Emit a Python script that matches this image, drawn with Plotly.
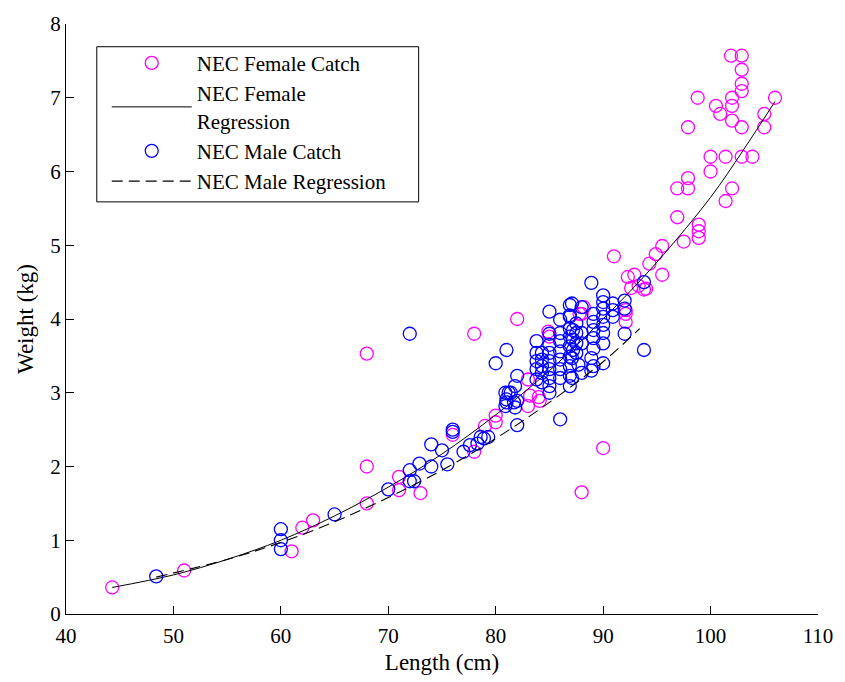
import plotly.graph_objects as go

# ---- data ----
female_len = [44.3, 51, 61, 62, 63, 68, 68, 68, 71, 71, 73, 76, 78, 78, 79, 80, 80,
              82, 83, 83, 84, 84.1, 83.2, 85, 84.9, 88, 90, 88, 87.8, 88.2, 92.1, 92.1, 92.1, 91,
              92.3, 92.9, 92.6, 93.8, 93.3, 94.0, 94.3, 94.9, 95.5, 95.5, 96.9, 97.5,
              98.9, 98.9, 98.9, 96.9, 97.9, 97.9, 100, 101.4, 102, 100, 101.4,
              102.9, 103.9, 97.9, 98.8, 100.5, 100.9, 102, 102, 102, 102.9,
              102.9, 102.9, 101.9, 102.9, 102.9, 105, 105, 106]
female_wt = [0.36, 0.59, 0.85, 1.17, 1.27, 1.5, 2.0, 3.53, 1.86, 1.68, 1.64, 2.43, 2.2, 3.8, 2.55, 2.6, 2.69,
             4.0, 2.82, 3.18, 2.94, 2.89, 2.96, 3.76, 3.83, 1.65, 2.25, 4.07, 4.07, 4.16, 4.07, 3.96, 4.12, 4.85,
             4.57, 4.6, 4.42, 4.4, 4.45, 4.41, 4.75, 4.88, 4.99, 4.6, 5.38, 5.05,
             5.28, 5.19, 5.1, 5.77, 5.77, 5.91, 6.0, 5.6, 5.77, 6.2, 6.2,
             6.2, 6.2, 6.6, 7.0, 6.89, 6.78, 6.69, 6.89, 7.0, 7.09,
             7.19, 7.38, 7.57, 7.57, 6.6, 6.6, 6.78, 7.0]

male_len = [48.4, 60, 60, 60, 65, 70, 72, 72, 72.4, 72.9, 74, 74, 75, 75.5, 76, 76,
            77, 77.6, 78.3, 78.6, 78.9, 79.3, 72, 80, 81, 80.9, 81.4, 81, 81.7, 82,
            82, 81.8, 81, 82, 80.9, 81.8, 81.2,
            83.8, 83.8, 83.8, 83.8, 83.8,
            84.3, 84.3, 84.3, 84.3, 84.3,
            85, 85, 85, 85, 85, 85, 85, 85, 85,
            86, 86, 86, 86, 86, 86, 86, 86,
            86.9, 86.9, 86.9, 86.9, 86.9, 86.9, 86.9, 86.9, 86.9, 86.9,
            87.5, 87.5, 87.5, 87.5,
            87.1, 87.1, 87.1, 87.2, 87.2, 87.2,
            88, 88, 88, 88, 87.7,
            88.9, 88.9, 88.9,
            89.1, 89.1, 89.1, 89.1, 89.1, 89.1,
            90, 90, 90, 90, 90, 90, 90, 90,
            90.9, 90.9, 90.9,
            92, 92, 92,
            93.8, 93.8]
male_wt = [0.51, 1.15, 1.0, 0.88, 1.35, 1.69, 1.95, 1.8, 1.8, 2.04, 2.0, 2.3, 2.22, 2.03, 2.5, 2.47,
           2.2, 2.29, 2.31, 2.4, 2.38, 2.4, 3.8, 3.4, 3.58, 3.0, 3.0, 2.87, 2.87, 2.56,
           3.23, 3.09, 2.91, 2.89, 2.82, 2.8, 3.0,
           3.7, 3.54, 3.43, 3.32, 3.18,
           3.54, 3.45, 3.36, 3.27, 3.14,
           4.1, 3.8, 3.65, 3.54, 3.43, 3.32, 3.2, 3.09, 3.0,
           3.99, 3.81, 3.7, 3.56, 3.45, 3.32, 3.2, 2.64,
           4.19, 4.05, 4.03, 3.87, 3.76, 3.63, 3.49, 3.36, 3.23, 3.09,
           3.94, 3.81, 3.67, 3.54,
           4.21, 3.47, 3.2, 3.85, 3.72, 3.58,
           4.16, 3.81, 3.67, 3.27, 3.38,
           4.49, 3.47, 3.3,
           4.07, 3.96, 3.85, 3.74, 3.6, 3.36,
           4.32, 4.23, 4.14, 4.03, 3.92, 3.81, 3.67, 3.4,
           4.21, 4.12, 4.03,
           4.25, 4.14, 3.8,
           4.5, 3.58]

female_reg_len = [44.3, 50, 55, 60, 65, 70, 75, 80, 85, 90, 95, 100, 103, 106]
female_reg_wt = [0.36, 0.53, 0.74, 1.0, 1.33, 1.72, 2.17, 2.70, 3.30, 4.0, 4.77, 5.65, 6.28, 6.95]

male_reg_len = [48.4, 55, 60, 65, 70, 75, 80, 85, 90, 93.4]
male_reg_wt = [0.50, 0.74, 0.97, 1.25, 1.58, 1.95, 2.38, 2.87, 3.42, 3.87]

x_ticks = [40, 50, 60, 70, 80, 90, 100, 110]
y_ticks = [0, 1, 2, 3, 4, 5, 6, 7, 8]

FONT = "Liberation Serif"

# plot area in pixels (from the reference)
W, H = 845, 682
L, R, T, B = 66, 22, 17, 68
PW, PH = W - L - R, H - T - B


def px_to_paper_x(px):
    return (px - L) / PW


def px_to_paper_y(py):
    return (H - B - py) / PH


fig = go.Figure()
fig.add_trace(go.Scatter(
    x=female_len, y=female_wt, mode="markers", name="NEC Female Catch",
    marker=dict(symbol="circle-open", size=13, color="#FF00FF", line=dict(width=1.3, color="#FF00FF")),
))
fig.add_trace(go.Scatter(
    x=female_reg_len, y=female_reg_wt, mode="lines", name="NEC Female<br>Regression",
    line=dict(color="black", width=1, shape="spline"),
))
fig.add_trace(go.Scatter(
    x=male_len, y=male_wt, mode="markers", name="NEC Male Catch",
    marker=dict(symbol="circle-open", size=13, color="#0000FF", line=dict(width=1.3, color="#0000FF")),
))
fig.add_trace(go.Scatter(
    x=male_reg_len, y=male_reg_wt, mode="lines", name="NEC Male Regression",
    line=dict(color="black", width=1.1, dash="11px,6px", shape="spline"),
))

# legend frame (drawn as a rectangle to match the reference's box size)
fig.add_shape(
    type="rect", xref="paper", yref="paper",
    x0=px_to_paper_x(97), x1=px_to_paper_x(421),
    y0=px_to_paper_y(197), y1=px_to_paper_y(40),
    line=dict(color="black", width=1), fillcolor="white", layer="above",
)

fig.update_layout(
    width=W, height=H,
    margin=dict(l=L, r=R, t=T, b=B),
    plot_bgcolor="white", paper_bgcolor="white",
    font=dict(family=FONT, size=20, color="black"),
    showlegend=True,
    legend=dict(
        x=px_to_paper_x(107), y=px_to_paper_y(36), xanchor="left", yanchor="top",
        borderwidth=0, bgcolor="rgba(0,0,0,0)",
        font=dict(family=FONT, size=21, color="black"),
        itemwidth=80, tracegroupgap=0,
    ),
    xaxis=dict(
        range=[40, 110], tickvals=x_ticks, ticktext=[str(v) for v in x_ticks],
        showline=True, linecolor="black", linewidth=1, mirror=False,
        ticks="inside", ticklen=8, tickcolor="black",
        showgrid=False, zeroline=False, ticklabelstandoff=3,
        title=dict(text="Length (cm)", standoff=6, font=dict(family=FONT, size=23)),
        tickfont=dict(family=FONT, size=21),
    ),
    yaxis=dict(
        range=[0, 8], tickvals=y_ticks, ticktext=[str(v) for v in y_ticks],
        showline=True, linecolor="black", linewidth=1, mirror=False,
        ticks="inside", ticklen=8, tickcolor="black",
        showgrid=False, zeroline=False,
        title=dict(text="Weight (kg)", standoff=10, font=dict(family=FONT, size=23)),
        tickfont=dict(family=FONT, size=21),
    ),
)

fig.write_html(
    "out.html",
    config={"displayModeBar": False},
    post_script="document.body.style.margin='0px';document.body.style.overflow='hidden';",
)
